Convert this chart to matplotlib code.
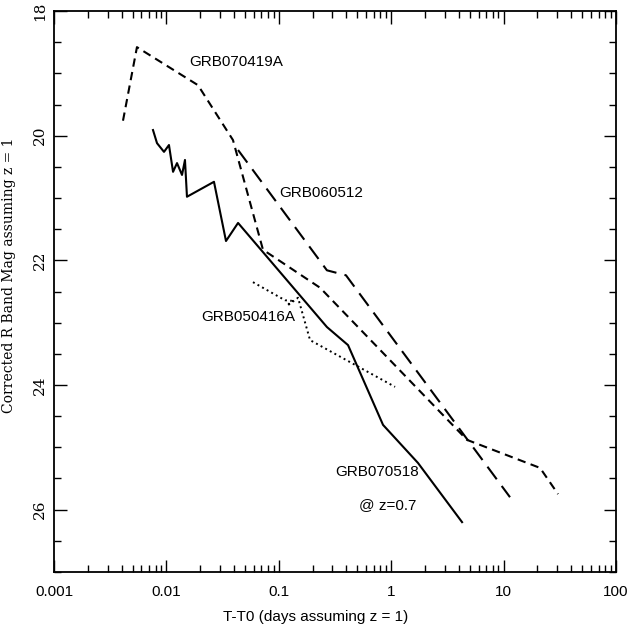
import matplotlib
matplotlib.use('Agg')

import matplotlib.pyplot as plt
from matplotlib.ticker import FixedLocator, MultipleLocator, LogLocator, NullFormatter


# --- light curves (T-T0 in days, R mag) ---
grb070419a_t = [0.00411, 0.00547, 0.0191, 0.0391, 0.0723, 0.233, 4.72, 21.1, 30.5]
grb070419a_m = [19.76, 18.58, 19.19, 20.07, 21.83, 22.44, 24.88, 25.33, 25.75]

grb060512_t = [0.0434, 0.268, 0.396, 11.4]
grb060512_m = [20.23, 22.16, 22.24, 25.80]

grb070518_t = [0.0076, 0.00825, 0.00952, 0.01054, 0.01146, 0.01243, 0.01377,
               0.01463, 0.01524, 0.0265, 0.0339, 0.0434, 0.268, 0.413, 0.846,
               1.73, 4.27]
grb070518_m = [19.91, 20.12, 20.26, 20.15, 20.58, 20.44, 20.63, 20.39, 20.98,
               20.74, 21.69, 21.40, 23.07, 23.36, 24.64, 25.25, 26.20]

grb050416a_t = [0.0589, 0.1135, 0.1311, 0.1183, 0.1483, 0.1897, 1.082]
grb050416a_m = [22.35, 22.64, 22.65, 22.73, 22.60, 23.28, 24.03]

xticks = [0.001, 0.01, 0.1, 1, 10, 100]
xtick_labels = ['0.001', '0.01', '0.1', '1', '10', '100']
yticks = [18, 20, 22, 24, 26]

sans = 'Liberation Sans'
serif = 'DejaVu Serif'

fig = plt.figure(figsize=(6.4, 6.24), dpi=100)
ax = fig.add_axes([54 / 640, 52 / 624, 562 / 640, 561 / 624])

ax.plot(grb070419a_t, grb070419a_m, color='black', lw=1.5, dashes=(4, 2.6))
ax.plot(grb060512_t, grb060512_m, color='black', lw=1.5, dashes=(7.5, 4))
ax.plot(grb070518_t, grb070518_m, color='black', lw=1.5, ls='-')
ax.plot(grb050416a_t, grb050416a_m, color='black', lw=1.4, dashes=(1, 1.7))

# labels
ax.text(0.0159, 18.82, 'GRB070419A', fontsize=11, family=sans, va='center')
ax.text(0.1004, 20.92, 'GRB060512', fontsize=11, family=sans, va='center')
ax.text(0.0203, 22.91, 'GRB050416A', fontsize=11, family=sans, va='center')
ax.text(0.316, 25.40, 'GRB070518', fontsize=11, family=sans, va='center')
ax.text(0.517, 25.93, '@ z=0.7', fontsize=11, family=sans, va='center')

ax.set_xscale('log')
ax.set_xlim(0.001, 100)
ax.set_ylim(27, 18)

ax.xaxis.set_major_locator(FixedLocator(xticks))
ax.set_xticklabels(xtick_labels, family=sans, fontsize=11)
ax.xaxis.set_minor_locator(LogLocator(base=10, subs=range(2, 10)))
ax.xaxis.set_minor_formatter(NullFormatter())

ax.yaxis.set_major_locator(FixedLocator(yticks))
ax.yaxis.set_minor_locator(MultipleLocator(0.5))
ax.set_yticklabels([str(v) for v in yticks], family=serif, fontsize=11,
                   rotation=90, va='center')

ax.tick_params(which='both', direction='in', top=True, right=True, width=1)
ax.tick_params(which='major', length=9)
ax.tick_params(which='minor', length=5)
ax.tick_params(axis='x', which='major', pad=9)
ax.tick_params(axis='y', which='major', pad=5)

for s in ax.spines.values():
    s.set_linewidth(1.3)

ax.set_xlabel('T-T0 (days assuming z = 1)', family=sans, fontsize=11)
ax.xaxis.set_label_coords(0.466, -0.068)
ax.set_ylabel('Corrected R Band Mag assuming z = 1', family=serif, fontsize=10)
ax.yaxis.set_label_coords(-0.068, 0.529)

fig.savefig('out.png', dpi=100)
